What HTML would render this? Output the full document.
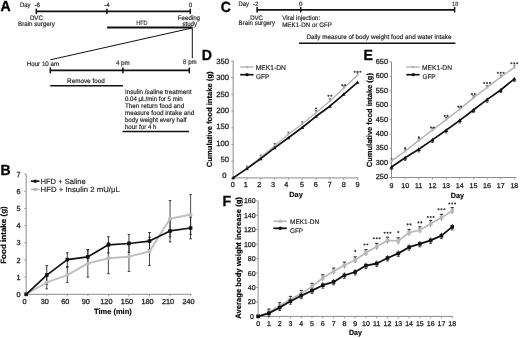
<!DOCTYPE html>
<html><head><meta charset="utf-8"><style>
html,body{margin:0;padding:0;background:#fff;}
body{width:520px;height:338px;overflow:hidden;}
svg{display:block;font-family:"Liberation Sans", sans-serif;will-change:transform;text-rendering:geometricPrecision;}
</style></head><body>
<svg width="520" height="338" viewBox="0 0 520 338">
<rect width="520" height="338" fill="#fff"/>
<text x="0.60" y="11.40" font-size="14.7" text-anchor="start" font-weight="bold" fill="#000" textLength="10.2" lengthAdjust="spacingAndGlyphs" stroke="#000" stroke-width="0.3">A</text>
<text x="19.90" y="6.90" font-size="6.55" text-anchor="start" font-weight="normal" fill="#1a1a1a" textLength="10.5" lengthAdjust="spacingAndGlyphs" stroke="#1a1a1a" stroke-width="0.16">Day</text>
<text x="34.40" y="6.90" font-size="6.2" text-anchor="start" font-weight="normal" fill="#1a1a1a" stroke="#1a1a1a" stroke-width="0.16">-6</text>
<line x1="36.30" y1="11.40" x2="190.30" y2="11.40" stroke="#111" stroke-width="1.8" />
<line x1="36.30" y1="8.70" x2="36.30" y2="14.10" stroke="#111" stroke-width="1.5" />
<line x1="106.90" y1="8.70" x2="106.90" y2="14.10" stroke="#111" stroke-width="1.5" />
<line x1="190.30" y1="8.70" x2="190.30" y2="14.10" stroke="#111" stroke-width="1.5" />
<text x="106.90" y="6.80" font-size="6.2" text-anchor="middle" font-weight="normal" fill="#1a1a1a" stroke="#1a1a1a" stroke-width="0.16">-4</text>
<text x="190.40" y="6.90" font-size="6.2" text-anchor="middle" font-weight="normal" fill="#1a1a1a" stroke="#1a1a1a" stroke-width="0.16">0</text>
<text x="36.40" y="20.20" font-size="6.55" text-anchor="middle" font-weight="normal" fill="#1a1a1a" textLength="12.9" lengthAdjust="spacingAndGlyphs" stroke="#1a1a1a" stroke-width="0.16">DVC</text>
<text x="36.50" y="25.50" font-size="6.55" text-anchor="middle" font-weight="normal" fill="#1a1a1a" textLength="36.9" lengthAdjust="spacingAndGlyphs" stroke="#1a1a1a" stroke-width="0.16">Brain surgery</text>
<text x="188.90" y="19.70" font-size="6.55" text-anchor="middle" font-weight="normal" fill="#1a1a1a" textLength="22.2" lengthAdjust="spacingAndGlyphs" stroke="#1a1a1a" stroke-width="0.16">Feeding</text>
<text x="189.75" y="26.10" font-size="6.55" text-anchor="middle" font-weight="normal" fill="#1a1a1a" textLength="14.7" lengthAdjust="spacingAndGlyphs" stroke="#1a1a1a" stroke-width="0.16">study</text>
<line x1="107.10" y1="27.60" x2="192.60" y2="27.60" stroke="#111" stroke-width="2.0" />
<text x="141.85" y="25.40" font-size="6.3" text-anchor="middle" font-weight="normal" fill="#333" textLength="11.4" lengthAdjust="spacingAndGlyphs" stroke="#333" stroke-width="0.14">HFD</text>
<line x1="192.30" y1="27.60" x2="192.30" y2="58.30" stroke="#111" stroke-width="1.0" />
<line x1="192.00" y1="28.00" x2="50.30" y2="59.80" stroke="#111" stroke-width="1.0" />
<text x="26.70" y="65.70" font-size="6.55" text-anchor="start" font-weight="normal" fill="#1a1a1a" textLength="32.5" lengthAdjust="spacingAndGlyphs" stroke="#1a1a1a" stroke-width="0.16">Hour 10 am</text>
<text x="122.85" y="65.00" font-size="6.55" text-anchor="middle" font-weight="normal" fill="#1a1a1a" textLength="13.9" lengthAdjust="spacingAndGlyphs" stroke="#1a1a1a" stroke-width="0.16">4 pm</text>
<text x="189.90" y="63.90" font-size="6.55" text-anchor="middle" font-weight="normal" fill="#1a1a1a" textLength="13.6" lengthAdjust="spacingAndGlyphs" stroke="#1a1a1a" stroke-width="0.16">8 pm</text>
<line x1="50.30" y1="70.40" x2="189.30" y2="70.40" stroke="#111" stroke-width="1.8" />
<line x1="50.30" y1="67.50" x2="50.30" y2="73.30" stroke="#111" stroke-width="1.5" />
<line x1="122.90" y1="67.50" x2="122.90" y2="73.30" stroke="#111" stroke-width="1.5" />
<line x1="189.30" y1="67.50" x2="189.30" y2="73.30" stroke="#111" stroke-width="1.5" />
<text x="85.90" y="83.00" font-size="6.55" text-anchor="middle" font-weight="normal" fill="#1a1a1a" textLength="37.6" lengthAdjust="spacingAndGlyphs" stroke="#1a1a1a" stroke-width="0.16">Remove food</text>
<line x1="50.20" y1="85.80" x2="122.90" y2="85.80" stroke="#111" stroke-width="1.6" />
<text x="124.90" y="93.80" font-size="6.55" text-anchor="start" font-weight="normal" fill="#1a1a1a" textLength="66.6" lengthAdjust="spacingAndGlyphs" stroke="#1a1a1a" stroke-width="0.16">Insulin /saline treatment</text>
<text x="124.90" y="100.80" font-size="6.55" text-anchor="start" font-weight="normal" fill="#1a1a1a" textLength="57.7" lengthAdjust="spacingAndGlyphs" stroke="#1a1a1a" stroke-width="0.16">0.04 μL/min for 5 min</text>
<text x="124.90" y="107.80" font-size="6.55" text-anchor="start" font-weight="normal" fill="#1a1a1a" textLength="59.3" lengthAdjust="spacingAndGlyphs" stroke="#1a1a1a" stroke-width="0.16">Then return food and</text>
<text x="124.90" y="114.80" font-size="6.55" text-anchor="start" font-weight="normal" fill="#1a1a1a" textLength="69.3" lengthAdjust="spacingAndGlyphs" stroke="#1a1a1a" stroke-width="0.16">measure food intake and</text>
<text x="124.90" y="121.80" font-size="6.55" text-anchor="start" font-weight="normal" fill="#1a1a1a" textLength="61.6" lengthAdjust="spacingAndGlyphs" stroke="#1a1a1a" stroke-width="0.16">body weight every half</text>
<text x="124.90" y="128.80" font-size="6.55" text-anchor="start" font-weight="normal" fill="#1a1a1a" textLength="31.6" lengthAdjust="spacingAndGlyphs" stroke="#1a1a1a" stroke-width="0.16">hour for 4 h</text>
<line x1="122.60" y1="131.50" x2="189.00" y2="131.50" stroke="#111" stroke-width="1.6" />
<text x="0.60" y="174.80" font-size="14.7" text-anchor="start" font-weight="bold" fill="#000" textLength="10.1" lengthAdjust="spacingAndGlyphs" stroke="#000" stroke-width="0.3">B</text>
<line x1="26.20" y1="174.11" x2="26.20" y2="294.30" stroke="#8c8c8c" stroke-width="1.0" />
<line x1="26.20" y1="294.30" x2="191.50" y2="294.30" stroke="#8c8c8c" stroke-width="1.0" />
<line x1="24.20" y1="294.30" x2="26.20" y2="294.30" stroke="#8c8c8c" stroke-width="0.8" />
<text x="20.60" y="296.90" font-size="7.3" text-anchor="end" font-weight="normal" fill="#1a1a1a" stroke="#1a1a1a" stroke-width="0.26">0</text>
<line x1="24.20" y1="277.13" x2="26.20" y2="277.13" stroke="#8c8c8c" stroke-width="0.8" />
<text x="20.60" y="279.73" font-size="7.3" text-anchor="end" font-weight="normal" fill="#1a1a1a" stroke="#1a1a1a" stroke-width="0.26">1</text>
<line x1="24.20" y1="259.96" x2="26.20" y2="259.96" stroke="#8c8c8c" stroke-width="0.8" />
<text x="20.60" y="262.56" font-size="7.3" text-anchor="end" font-weight="normal" fill="#1a1a1a" stroke="#1a1a1a" stroke-width="0.26">2</text>
<line x1="24.20" y1="242.79" x2="26.20" y2="242.79" stroke="#8c8c8c" stroke-width="0.8" />
<text x="20.60" y="245.39" font-size="7.3" text-anchor="end" font-weight="normal" fill="#1a1a1a" stroke="#1a1a1a" stroke-width="0.26">3</text>
<line x1="24.20" y1="225.62" x2="26.20" y2="225.62" stroke="#8c8c8c" stroke-width="0.8" />
<text x="20.60" y="228.22" font-size="7.3" text-anchor="end" font-weight="normal" fill="#1a1a1a" stroke="#1a1a1a" stroke-width="0.26">4</text>
<line x1="24.20" y1="208.45" x2="26.20" y2="208.45" stroke="#8c8c8c" stroke-width="0.8" />
<text x="20.60" y="211.05" font-size="7.3" text-anchor="end" font-weight="normal" fill="#1a1a1a" stroke="#1a1a1a" stroke-width="0.26">5</text>
<line x1="24.20" y1="191.28" x2="26.20" y2="191.28" stroke="#8c8c8c" stroke-width="0.8" />
<text x="20.60" y="193.88" font-size="7.3" text-anchor="end" font-weight="normal" fill="#1a1a1a" stroke="#1a1a1a" stroke-width="0.26">6</text>
<line x1="24.20" y1="174.11" x2="26.20" y2="174.11" stroke="#8c8c8c" stroke-width="0.8" />
<text x="20.60" y="176.71" font-size="7.3" text-anchor="end" font-weight="normal" fill="#1a1a1a" stroke="#1a1a1a" stroke-width="0.26">7</text>
<line x1="26.20" y1="294.30" x2="26.20" y2="296.30" stroke="#8c8c8c" stroke-width="0.8" />
<text x="24.60" y="303.50" font-size="7.3" text-anchor="middle" font-weight="normal" fill="#1a1a1a" stroke="#1a1a1a" stroke-width="0.26">0</text>
<line x1="46.75" y1="294.30" x2="46.75" y2="296.30" stroke="#8c8c8c" stroke-width="0.8" />
<text x="44.75" y="303.50" font-size="7.3" text-anchor="middle" font-weight="normal" fill="#1a1a1a" stroke="#1a1a1a" stroke-width="0.26">30</text>
<line x1="67.30" y1="294.30" x2="67.30" y2="296.30" stroke="#8c8c8c" stroke-width="0.8" />
<text x="65.30" y="303.50" font-size="7.3" text-anchor="middle" font-weight="normal" fill="#1a1a1a" stroke="#1a1a1a" stroke-width="0.26">60</text>
<line x1="87.85" y1="294.30" x2="87.85" y2="296.30" stroke="#8c8c8c" stroke-width="0.8" />
<text x="85.85" y="303.50" font-size="7.3" text-anchor="middle" font-weight="normal" fill="#1a1a1a" stroke="#1a1a1a" stroke-width="0.26">90</text>
<line x1="108.40" y1="294.30" x2="108.40" y2="296.30" stroke="#8c8c8c" stroke-width="0.8" />
<text x="106.40" y="303.50" font-size="7.3" text-anchor="middle" font-weight="normal" fill="#1a1a1a" stroke="#1a1a1a" stroke-width="0.26">120</text>
<line x1="128.95" y1="294.30" x2="128.95" y2="296.30" stroke="#8c8c8c" stroke-width="0.8" />
<text x="126.95" y="303.50" font-size="7.3" text-anchor="middle" font-weight="normal" fill="#1a1a1a" stroke="#1a1a1a" stroke-width="0.26">150</text>
<line x1="149.50" y1="294.30" x2="149.50" y2="296.30" stroke="#8c8c8c" stroke-width="0.8" />
<text x="147.50" y="303.50" font-size="7.3" text-anchor="middle" font-weight="normal" fill="#1a1a1a" stroke="#1a1a1a" stroke-width="0.26">180</text>
<line x1="170.05" y1="294.30" x2="170.05" y2="296.30" stroke="#8c8c8c" stroke-width="0.8" />
<text x="168.05" y="303.50" font-size="7.3" text-anchor="middle" font-weight="normal" fill="#1a1a1a" stroke="#1a1a1a" stroke-width="0.26">210</text>
<line x1="190.60" y1="294.30" x2="190.60" y2="296.30" stroke="#8c8c8c" stroke-width="0.8" />
<text x="188.60" y="303.50" font-size="7.3" text-anchor="middle" font-weight="normal" fill="#1a1a1a" stroke="#1a1a1a" stroke-width="0.26">240</text>
<text x="112.90" y="314.30" font-size="7.5" text-anchor="middle" font-weight="bold" fill="#000" textLength="37.8" lengthAdjust="spacingAndGlyphs" stroke="#000" stroke-width="0.14">Time (min)</text>
<text x="0.00" y="0.00" font-size="7.7" text-anchor="middle" font-weight="bold" fill="#000" transform="translate(6.2,235.0) rotate(-90)" textLength="57.6" lengthAdjust="spacingAndGlyphs" stroke="#000" stroke-width="0.14">Food intake (g)</text>
<line x1="46.75" y1="288.81" x2="46.75" y2="276.10" stroke="#333" stroke-width="0.9" />
<line x1="45.45" y1="288.81" x2="48.05" y2="288.81" stroke="#333" stroke-width="0.9" />
<line x1="45.45" y1="276.10" x2="48.05" y2="276.10" stroke="#333" stroke-width="0.9" />
<line x1="67.30" y1="282.62" x2="67.30" y2="267.51" stroke="#333" stroke-width="0.9" />
<line x1="66.00" y1="282.62" x2="68.60" y2="282.62" stroke="#333" stroke-width="0.9" />
<line x1="66.00" y1="267.51" x2="68.60" y2="267.51" stroke="#333" stroke-width="0.9" />
<line x1="87.85" y1="277.13" x2="87.85" y2="249.66" stroke="#333" stroke-width="0.9" />
<line x1="86.55" y1="277.13" x2="89.15" y2="277.13" stroke="#333" stroke-width="0.9" />
<line x1="86.55" y1="249.66" x2="89.15" y2="249.66" stroke="#333" stroke-width="0.9" />
<line x1="108.40" y1="273.70" x2="108.40" y2="242.79" stroke="#333" stroke-width="0.9" />
<line x1="107.10" y1="273.70" x2="109.70" y2="273.70" stroke="#333" stroke-width="0.9" />
<line x1="107.10" y1="242.79" x2="109.70" y2="242.79" stroke="#333" stroke-width="0.9" />
<line x1="128.95" y1="271.46" x2="128.95" y2="241.93" stroke="#333" stroke-width="0.9" />
<line x1="127.65" y1="271.46" x2="130.25" y2="271.46" stroke="#333" stroke-width="0.9" />
<line x1="127.65" y1="241.93" x2="130.25" y2="241.93" stroke="#333" stroke-width="0.9" />
<line x1="149.50" y1="265.45" x2="149.50" y2="237.30" stroke="#333" stroke-width="0.9" />
<line x1="148.20" y1="265.45" x2="150.80" y2="265.45" stroke="#333" stroke-width="0.9" />
<line x1="148.20" y1="237.30" x2="150.80" y2="237.30" stroke="#333" stroke-width="0.9" />
<line x1="170.05" y1="236.95" x2="170.05" y2="200.55" stroke="#333" stroke-width="0.9" />
<line x1="168.75" y1="236.95" x2="171.35" y2="236.95" stroke="#333" stroke-width="0.9" />
<line x1="168.75" y1="200.55" x2="171.35" y2="200.55" stroke="#333" stroke-width="0.9" />
<line x1="190.60" y1="234.38" x2="190.60" y2="194.54" stroke="#333" stroke-width="0.9" />
<line x1="189.30" y1="234.38" x2="191.90" y2="234.38" stroke="#333" stroke-width="0.9" />
<line x1="189.30" y1="194.54" x2="191.90" y2="194.54" stroke="#333" stroke-width="0.9" />
<line x1="46.75" y1="284.51" x2="46.75" y2="265.63" stroke="#222" stroke-width="0.9" />
<line x1="45.45" y1="284.51" x2="48.05" y2="284.51" stroke="#222" stroke-width="0.9" />
<line x1="45.45" y1="265.63" x2="48.05" y2="265.63" stroke="#222" stroke-width="0.9" />
<line x1="67.30" y1="266.48" x2="67.30" y2="252.75" stroke="#222" stroke-width="0.9" />
<line x1="66.00" y1="266.48" x2="68.60" y2="266.48" stroke="#222" stroke-width="0.9" />
<line x1="66.00" y1="252.75" x2="68.60" y2="252.75" stroke="#222" stroke-width="0.9" />
<line x1="87.85" y1="264.08" x2="87.85" y2="249.66" stroke="#222" stroke-width="0.9" />
<line x1="86.55" y1="264.08" x2="89.15" y2="264.08" stroke="#222" stroke-width="0.9" />
<line x1="86.55" y1="249.66" x2="89.15" y2="249.66" stroke="#222" stroke-width="0.9" />
<line x1="108.40" y1="252.92" x2="108.40" y2="236.78" stroke="#222" stroke-width="0.9" />
<line x1="107.10" y1="252.92" x2="109.70" y2="252.92" stroke="#222" stroke-width="0.9" />
<line x1="107.10" y1="236.78" x2="109.70" y2="236.78" stroke="#222" stroke-width="0.9" />
<line x1="128.95" y1="252.41" x2="128.95" y2="234.55" stroke="#222" stroke-width="0.9" />
<line x1="127.65" y1="252.41" x2="130.25" y2="252.41" stroke="#222" stroke-width="0.9" />
<line x1="127.65" y1="234.55" x2="130.25" y2="234.55" stroke="#222" stroke-width="0.9" />
<line x1="149.50" y1="249.66" x2="149.50" y2="232.49" stroke="#222" stroke-width="0.9" />
<line x1="148.20" y1="249.66" x2="150.80" y2="249.66" stroke="#222" stroke-width="0.9" />
<line x1="148.20" y1="232.49" x2="150.80" y2="232.49" stroke="#222" stroke-width="0.9" />
<line x1="170.05" y1="241.93" x2="170.05" y2="219.95" stroke="#222" stroke-width="0.9" />
<line x1="168.75" y1="241.93" x2="171.35" y2="241.93" stroke="#222" stroke-width="0.9" />
<line x1="168.75" y1="219.95" x2="171.35" y2="219.95" stroke="#222" stroke-width="0.9" />
<line x1="190.60" y1="238.84" x2="190.60" y2="217.21" stroke="#222" stroke-width="0.9" />
<line x1="189.30" y1="238.84" x2="191.90" y2="238.84" stroke="#222" stroke-width="0.9" />
<line x1="189.30" y1="217.21" x2="191.90" y2="217.21" stroke="#222" stroke-width="0.9" />
<polyline points="26.20,294.30 46.75,282.45 67.30,275.07 87.85,263.39 108.40,258.24 128.95,256.70 149.50,251.38 170.05,218.75 190.60,214.46" fill="none" stroke="#c0c0c0" stroke-width="1.9" stroke-linejoin="round"/>
<circle cx="26.20" cy="294.30" r="2.00" fill="#bcbcbc"/>
<circle cx="46.75" cy="282.45" r="2.00" fill="#bcbcbc"/>
<circle cx="67.30" cy="275.07" r="2.00" fill="#bcbcbc"/>
<circle cx="87.85" cy="263.39" r="2.00" fill="#bcbcbc"/>
<circle cx="108.40" cy="258.24" r="2.00" fill="#bcbcbc"/>
<circle cx="128.95" cy="256.70" r="2.00" fill="#bcbcbc"/>
<circle cx="149.50" cy="251.38" r="2.00" fill="#bcbcbc"/>
<circle cx="170.05" cy="218.75" r="2.00" fill="#bcbcbc"/>
<circle cx="190.60" cy="214.46" r="2.00" fill="#bcbcbc"/>
<polyline points="26.20,294.30 46.75,275.07 67.30,259.62 87.85,256.87 108.40,244.85 128.95,243.48 149.50,241.07 170.05,230.94 190.60,228.02" fill="none" stroke="#111" stroke-width="1.7" stroke-linejoin="round"/>
<rect x="24.40" y="292.50" width="3.60" height="3.60" fill="#111"/>
<rect x="44.95" y="273.27" width="3.60" height="3.60" fill="#111"/>
<rect x="65.50" y="257.82" width="3.60" height="3.60" fill="#111"/>
<rect x="86.05" y="255.07" width="3.60" height="3.60" fill="#111"/>
<rect x="106.60" y="243.05" width="3.60" height="3.60" fill="#111"/>
<rect x="127.15" y="241.68" width="3.60" height="3.60" fill="#111"/>
<rect x="147.70" y="239.27" width="3.60" height="3.60" fill="#111"/>
<rect x="168.25" y="229.14" width="3.60" height="3.60" fill="#111"/>
<rect x="188.80" y="226.22" width="3.60" height="3.60" fill="#111"/>
<line x1="30.90" y1="181.20" x2="39.50" y2="181.20" stroke="#111" stroke-width="1.6" />
<rect x="33.60" y="179.70" width="3.00" height="3.00" fill="#111"/>
<line x1="30.90" y1="189.40" x2="39.50" y2="189.40" stroke="#b8b8b8" stroke-width="1.6" />
<rect x="33.60" y="187.90" width="3.00" height="3.00" fill="#b8b8b8"/>
<text x="40.50" y="183.90" font-size="7.6" text-anchor="start" font-weight="normal" fill="#1a1a1a" textLength="45.2" lengthAdjust="spacingAndGlyphs" stroke="#1a1a1a" stroke-width="0.15">HFD + Saline</text>
<text x="40.50" y="192.20" font-size="7.6" text-anchor="start" font-weight="normal" fill="#1a1a1a" textLength="79.3" lengthAdjust="spacingAndGlyphs" stroke="#1a1a1a" stroke-width="0.15">HFD + Insulin 2 mU/μL</text>
<text x="220.70" y="11.50" font-size="14.7" text-anchor="start" font-weight="bold" fill="#000" textLength="10.2" lengthAdjust="spacingAndGlyphs" stroke="#000" stroke-width="0.3">C</text>
<text x="238.60" y="5.80" font-size="6.55" text-anchor="start" font-weight="normal" fill="#1a1a1a" textLength="10.4" lengthAdjust="spacingAndGlyphs" stroke="#1a1a1a" stroke-width="0.16">Day</text>
<text x="253.00" y="5.80" font-size="6.2" text-anchor="start" font-weight="normal" fill="#1a1a1a" stroke="#1a1a1a" stroke-width="0.16">-2</text>
<line x1="257.10" y1="9.80" x2="454.60" y2="9.80" stroke="#111" stroke-width="1.8" />
<line x1="257.10" y1="7.00" x2="257.10" y2="12.50" stroke="#111" stroke-width="1.5" />
<line x1="300.70" y1="7.00" x2="300.70" y2="12.50" stroke="#111" stroke-width="1.5" />
<line x1="454.60" y1="7.00" x2="454.60" y2="12.50" stroke="#111" stroke-width="1.5" />
<text x="300.70" y="5.50" font-size="6.2" text-anchor="middle" font-weight="normal" fill="#1a1a1a" stroke="#1a1a1a" stroke-width="0.16">0</text>
<text x="455.00" y="5.50" font-size="6.0" text-anchor="middle" font-weight="normal" fill="#333" stroke="#333" stroke-width="0.08">18</text>
<text x="256.55" y="19.80" font-size="6.55" text-anchor="middle" font-weight="normal" fill="#1a1a1a" textLength="12.7" lengthAdjust="spacingAndGlyphs" stroke="#1a1a1a" stroke-width="0.16">DVC</text>
<text x="256.85" y="25.40" font-size="6.55" text-anchor="middle" font-weight="normal" fill="#1a1a1a" textLength="36.5" lengthAdjust="spacingAndGlyphs" stroke="#1a1a1a" stroke-width="0.16">Brain surgery</text>
<text x="282.20" y="20.00" font-size="6.55" text-anchor="start" font-weight="normal" fill="#1a1a1a" textLength="38.0" lengthAdjust="spacingAndGlyphs" stroke="#1a1a1a" stroke-width="0.16">Viral injection:</text>
<text x="282.20" y="27.40" font-size="6.55" text-anchor="start" font-weight="normal" fill="#1a1a1a" textLength="49.8" lengthAdjust="spacingAndGlyphs" stroke="#1a1a1a" stroke-width="0.16">MEK1-DN or GFP</text>
<text x="306.40" y="39.20" font-size="6.55" text-anchor="start" font-weight="normal" fill="#1a1a1a" textLength="145.1" lengthAdjust="spacingAndGlyphs" stroke="#1a1a1a" stroke-width="0.16">Daily measure of body weight food and water intake</text>
<line x1="299.00" y1="43.20" x2="455.40" y2="43.20" stroke="#111" stroke-width="1.6" />
<text x="201.80" y="60.00" font-size="14.7" text-anchor="start" font-weight="bold" fill="#000" textLength="10.2" lengthAdjust="spacingAndGlyphs" stroke="#000" stroke-width="0.3">D</text>
<line x1="233.15" y1="61.00" x2="233.15" y2="177.90" stroke="#8c8c8c" stroke-width="1.0" />
<line x1="233.15" y1="177.90" x2="358.50" y2="177.90" stroke="#8c8c8c" stroke-width="1.0" />
<line x1="231.15" y1="177.90" x2="233.15" y2="177.90" stroke="#8c8c8c" stroke-width="0.8" />
<text x="226.50" y="178.30" font-size="7.7" text-anchor="end" font-weight="normal" fill="#1a1a1a" stroke="#1a1a1a" stroke-width="0.26">0</text>
<line x1="231.15" y1="161.20" x2="233.15" y2="161.20" stroke="#8c8c8c" stroke-width="0.8" />
<text x="229.10" y="161.96" font-size="7.7" text-anchor="end" font-weight="normal" fill="#1a1a1a" stroke="#1a1a1a" stroke-width="0.26">50</text>
<line x1="231.15" y1="144.50" x2="233.15" y2="144.50" stroke="#8c8c8c" stroke-width="0.8" />
<text x="229.10" y="145.62" font-size="7.7" text-anchor="end" font-weight="normal" fill="#1a1a1a" stroke="#1a1a1a" stroke-width="0.26">100</text>
<line x1="231.15" y1="127.80" x2="233.15" y2="127.80" stroke="#8c8c8c" stroke-width="0.8" />
<text x="229.10" y="129.28" font-size="7.7" text-anchor="end" font-weight="normal" fill="#1a1a1a" stroke="#1a1a1a" stroke-width="0.26">150</text>
<line x1="231.15" y1="111.10" x2="233.15" y2="111.10" stroke="#8c8c8c" stroke-width="0.8" />
<text x="229.10" y="112.94" font-size="7.7" text-anchor="end" font-weight="normal" fill="#1a1a1a" stroke="#1a1a1a" stroke-width="0.26">200</text>
<line x1="231.15" y1="94.40" x2="233.15" y2="94.40" stroke="#8c8c8c" stroke-width="0.8" />
<text x="229.10" y="96.60" font-size="7.7" text-anchor="end" font-weight="normal" fill="#1a1a1a" stroke="#1a1a1a" stroke-width="0.26">250</text>
<line x1="231.15" y1="77.70" x2="233.15" y2="77.70" stroke="#8c8c8c" stroke-width="0.8" />
<text x="229.10" y="80.26" font-size="7.7" text-anchor="end" font-weight="normal" fill="#1a1a1a" stroke="#1a1a1a" stroke-width="0.26">300</text>
<line x1="231.15" y1="61.00" x2="233.15" y2="61.00" stroke="#8c8c8c" stroke-width="0.8" />
<text x="229.10" y="63.70" font-size="7.7" text-anchor="end" font-weight="normal" fill="#1a1a1a" stroke="#1a1a1a" stroke-width="0.26">350</text>
<line x1="233.15" y1="177.90" x2="233.15" y2="179.90" stroke="#8c8c8c" stroke-width="0.8" />
<text x="232.75" y="187.30" font-size="7.3" text-anchor="middle" font-weight="normal" fill="#1a1a1a" stroke="#1a1a1a" stroke-width="0.26">0</text>
<line x1="246.97" y1="177.90" x2="246.97" y2="179.90" stroke="#8c8c8c" stroke-width="0.8" />
<text x="245.67" y="187.30" font-size="7.3" text-anchor="middle" font-weight="normal" fill="#1a1a1a" stroke="#1a1a1a" stroke-width="0.26">1</text>
<line x1="260.79" y1="177.90" x2="260.79" y2="179.90" stroke="#8c8c8c" stroke-width="0.8" />
<text x="259.19" y="187.30" font-size="7.3" text-anchor="middle" font-weight="normal" fill="#1a1a1a" stroke="#1a1a1a" stroke-width="0.26">2</text>
<line x1="274.61" y1="177.90" x2="274.61" y2="179.90" stroke="#8c8c8c" stroke-width="0.8" />
<text x="272.91" y="187.30" font-size="7.3" text-anchor="middle" font-weight="normal" fill="#1a1a1a" stroke="#1a1a1a" stroke-width="0.26">3</text>
<line x1="288.43" y1="177.90" x2="288.43" y2="179.90" stroke="#8c8c8c" stroke-width="0.8" />
<text x="286.23" y="187.30" font-size="7.3" text-anchor="middle" font-weight="normal" fill="#1a1a1a" stroke="#1a1a1a" stroke-width="0.26">4</text>
<line x1="302.25" y1="177.90" x2="302.25" y2="179.90" stroke="#8c8c8c" stroke-width="0.8" />
<text x="301.95" y="187.30" font-size="7.3" text-anchor="middle" font-weight="normal" fill="#1a1a1a" stroke="#1a1a1a" stroke-width="0.26">5</text>
<line x1="316.07" y1="177.90" x2="316.07" y2="179.90" stroke="#8c8c8c" stroke-width="0.8" />
<text x="315.77" y="187.30" font-size="7.3" text-anchor="middle" font-weight="normal" fill="#1a1a1a" stroke="#1a1a1a" stroke-width="0.26">6</text>
<line x1="329.89" y1="177.90" x2="329.89" y2="179.90" stroke="#8c8c8c" stroke-width="0.8" />
<text x="329.89" y="187.30" font-size="7.3" text-anchor="middle" font-weight="normal" fill="#1a1a1a" stroke="#1a1a1a" stroke-width="0.26">7</text>
<line x1="343.71" y1="177.90" x2="343.71" y2="179.90" stroke="#8c8c8c" stroke-width="0.8" />
<text x="343.71" y="187.30" font-size="7.3" text-anchor="middle" font-weight="normal" fill="#1a1a1a" stroke="#1a1a1a" stroke-width="0.26">8</text>
<line x1="357.53" y1="177.90" x2="357.53" y2="179.90" stroke="#8c8c8c" stroke-width="0.8" />
<text x="357.53" y="187.30" font-size="7.3" text-anchor="middle" font-weight="normal" fill="#1a1a1a" stroke="#1a1a1a" stroke-width="0.26">9</text>
<text x="296.00" y="196.50" font-size="7.4" text-anchor="middle" font-weight="bold" fill="#000" textLength="13.5" lengthAdjust="spacingAndGlyphs" stroke="#000" stroke-width="0.14">Day</text>
<text x="0.00" y="0.00" font-size="7.6" text-anchor="middle" font-weight="bold" fill="#000" transform="translate(212.3,119.3) rotate(-90)" textLength="95.7" lengthAdjust="spacingAndGlyphs" stroke="#000" stroke-width="0.14">Cumulative food intake (g)</text>
<polyline points="233.15,177.90 246.97,168.20 260.79,157.30 274.61,145.70 288.43,134.30 302.25,123.90 316.07,112.70 329.89,101.00 343.71,88.20 357.53,75.00" fill="none" stroke="#b0b0b0" stroke-width="1.2" stroke-linejoin="round"/>
<rect x="232.15" y="176.90" width="2.00" height="2.00" fill="#b8b8b8"/>
<line x1="245.77" y1="166.00" x2="248.17" y2="166.00" stroke="#555" stroke-width="0.8" />
<line x1="246.97" y1="166.00" x2="246.97" y2="168.20" stroke="#555" stroke-width="0.8" />
<rect x="245.97" y="167.20" width="2.00" height="2.00" fill="#b8b8b8"/>
<line x1="259.59" y1="155.10" x2="261.99" y2="155.10" stroke="#555" stroke-width="0.8" />
<line x1="260.79" y1="155.10" x2="260.79" y2="157.30" stroke="#555" stroke-width="0.8" />
<rect x="259.79" y="156.30" width="2.00" height="2.00" fill="#b8b8b8"/>
<line x1="273.41" y1="143.50" x2="275.81" y2="143.50" stroke="#555" stroke-width="0.8" />
<line x1="274.61" y1="143.50" x2="274.61" y2="145.70" stroke="#555" stroke-width="0.8" />
<rect x="273.61" y="144.70" width="2.00" height="2.00" fill="#b8b8b8"/>
<line x1="287.23" y1="132.10" x2="289.63" y2="132.10" stroke="#555" stroke-width="0.8" />
<line x1="288.43" y1="132.10" x2="288.43" y2="134.30" stroke="#555" stroke-width="0.8" />
<rect x="287.43" y="133.30" width="2.00" height="2.00" fill="#b8b8b8"/>
<line x1="301.05" y1="121.70" x2="303.45" y2="121.70" stroke="#555" stroke-width="0.8" />
<line x1="302.25" y1="121.70" x2="302.25" y2="123.90" stroke="#555" stroke-width="0.8" />
<rect x="301.25" y="122.90" width="2.00" height="2.00" fill="#b8b8b8"/>
<line x1="314.87" y1="110.50" x2="317.27" y2="110.50" stroke="#555" stroke-width="0.8" />
<line x1="316.07" y1="110.50" x2="316.07" y2="112.70" stroke="#555" stroke-width="0.8" />
<rect x="315.07" y="111.70" width="2.00" height="2.00" fill="#b8b8b8"/>
<line x1="328.69" y1="98.80" x2="331.09" y2="98.80" stroke="#555" stroke-width="0.8" />
<line x1="329.89" y1="98.80" x2="329.89" y2="101.00" stroke="#555" stroke-width="0.8" />
<rect x="328.89" y="100.00" width="2.00" height="2.00" fill="#b8b8b8"/>
<line x1="342.51" y1="86.00" x2="344.91" y2="86.00" stroke="#555" stroke-width="0.8" />
<line x1="343.71" y1="86.00" x2="343.71" y2="88.20" stroke="#555" stroke-width="0.8" />
<rect x="342.71" y="87.20" width="2.00" height="2.00" fill="#b8b8b8"/>
<line x1="356.33" y1="72.80" x2="358.73" y2="72.80" stroke="#555" stroke-width="0.8" />
<line x1="357.53" y1="72.80" x2="357.53" y2="75.00" stroke="#555" stroke-width="0.8" />
<rect x="356.53" y="74.00" width="2.00" height="2.00" fill="#b8b8b8"/>
<polyline points="233.15,177.90 246.97,168.60 260.79,158.70 274.61,147.90 288.43,137.80 302.25,127.50 316.07,116.30 329.89,106.20 343.71,94.30 357.53,82.40" fill="none" stroke="#111" stroke-width="1.7" stroke-linejoin="round"/>
<polygon points="231.35,179.34 234.95,179.34 233.15,176.10" fill="#111"/>
<polygon points="245.17,170.04 248.77,170.04 246.97,166.80" fill="#111"/>
<polygon points="258.99,160.14 262.59,160.14 260.79,156.90" fill="#111"/>
<polygon points="272.81,149.34 276.41,149.34 274.61,146.10" fill="#111"/>
<polygon points="286.63,139.24 290.23,139.24 288.43,136.00" fill="#111"/>
<polygon points="300.45,128.94 304.05,128.94 302.25,125.70" fill="#111"/>
<polygon points="314.27,117.74 317.87,117.74 316.07,114.50" fill="#111"/>
<polygon points="328.09,107.64 331.69,107.64 329.89,104.40" fill="#111"/>
<polygon points="341.91,95.74 345.51,95.74 343.71,92.50" fill="#111"/>
<polygon points="355.73,83.84 359.33,83.84 357.53,80.60" fill="#111"/>
<circle cx="316.07" cy="108.50" r="1.05" fill="#3a3a3a"/>
<circle cx="328.44" cy="95.80" r="1.05" fill="#3a3a3a"/>
<circle cx="331.34" cy="95.80" r="1.05" fill="#3a3a3a"/>
<circle cx="342.26" cy="85.00" r="1.05" fill="#3a3a3a"/>
<circle cx="345.16" cy="85.00" r="1.05" fill="#3a3a3a"/>
<circle cx="354.63" cy="71.70" r="1.05" fill="#3a3a3a"/>
<circle cx="357.53" cy="71.70" r="1.05" fill="#3a3a3a"/>
<circle cx="360.43" cy="71.70" r="1.05" fill="#3a3a3a"/>
<line x1="240.20" y1="67.00" x2="253.50" y2="67.00" stroke="#b0b0b0" stroke-width="1.4" />
<rect x="245.80" y="65.80" width="2.40" height="2.40" fill="#b8b8b8"/>
<line x1="240.20" y1="74.70" x2="253.50" y2="74.70" stroke="#111" stroke-width="1.7" />
<circle cx="247.00" cy="74.70" r="1.60" fill="#111"/>
<text x="255.80" y="69.90" font-size="6.8" text-anchor="start" font-weight="normal" fill="#1a1a1a" textLength="30.0" lengthAdjust="spacingAndGlyphs" stroke="#1a1a1a" stroke-width="0.15">MEK1-DN</text>
<text x="256.10" y="78.90" font-size="6.8" text-anchor="start" font-weight="normal" fill="#1a1a1a" textLength="13.2" lengthAdjust="spacingAndGlyphs" stroke="#1a1a1a" stroke-width="0.15">GFP</text>
<text x="363.60" y="59.90" font-size="14.7" text-anchor="start" font-weight="bold" fill="#000" textLength="9.4" lengthAdjust="spacingAndGlyphs" stroke="#000" stroke-width="0.3">E</text>
<line x1="391.50" y1="61.82" x2="391.50" y2="177.50" stroke="#8c8c8c" stroke-width="1.0" />
<line x1="391.50" y1="177.50" x2="516.50" y2="177.50" stroke="#8c8c8c" stroke-width="1.0" />
<line x1="389.50" y1="177.50" x2="391.50" y2="177.50" stroke="#8c8c8c" stroke-width="0.8" />
<text x="388.00" y="179.40" font-size="7.3" text-anchor="end" font-weight="normal" fill="#1a1a1a" stroke="#1a1a1a" stroke-width="0.26">250</text>
<line x1="389.50" y1="163.04" x2="391.50" y2="163.04" stroke="#8c8c8c" stroke-width="0.8" />
<text x="388.00" y="164.94" font-size="7.3" text-anchor="end" font-weight="normal" fill="#1a1a1a" stroke="#1a1a1a" stroke-width="0.26">300</text>
<line x1="389.50" y1="148.58" x2="391.50" y2="148.58" stroke="#8c8c8c" stroke-width="0.8" />
<text x="388.00" y="150.48" font-size="7.3" text-anchor="end" font-weight="normal" fill="#1a1a1a" stroke="#1a1a1a" stroke-width="0.26">350</text>
<line x1="389.50" y1="134.12" x2="391.50" y2="134.12" stroke="#8c8c8c" stroke-width="0.8" />
<text x="388.00" y="136.02" font-size="7.3" text-anchor="end" font-weight="normal" fill="#1a1a1a" stroke="#1a1a1a" stroke-width="0.26">400</text>
<line x1="389.50" y1="119.66" x2="391.50" y2="119.66" stroke="#8c8c8c" stroke-width="0.8" />
<text x="388.00" y="121.56" font-size="7.3" text-anchor="end" font-weight="normal" fill="#1a1a1a" stroke="#1a1a1a" stroke-width="0.26">450</text>
<line x1="389.50" y1="105.20" x2="391.50" y2="105.20" stroke="#8c8c8c" stroke-width="0.8" />
<text x="388.00" y="107.10" font-size="7.3" text-anchor="end" font-weight="normal" fill="#1a1a1a" stroke="#1a1a1a" stroke-width="0.26">500</text>
<line x1="389.50" y1="90.74" x2="391.50" y2="90.74" stroke="#8c8c8c" stroke-width="0.8" />
<text x="388.00" y="92.64" font-size="7.3" text-anchor="end" font-weight="normal" fill="#1a1a1a" stroke="#1a1a1a" stroke-width="0.26">550</text>
<line x1="389.50" y1="76.28" x2="391.50" y2="76.28" stroke="#8c8c8c" stroke-width="0.8" />
<text x="388.00" y="78.18" font-size="7.3" text-anchor="end" font-weight="normal" fill="#1a1a1a" stroke="#1a1a1a" stroke-width="0.26">600</text>
<line x1="389.50" y1="61.82" x2="391.50" y2="61.82" stroke="#8c8c8c" stroke-width="0.8" />
<text x="388.00" y="63.72" font-size="7.3" text-anchor="end" font-weight="normal" fill="#1a1a1a" stroke="#1a1a1a" stroke-width="0.26">650</text>
<line x1="391.50" y1="177.50" x2="391.50" y2="179.50" stroke="#8c8c8c" stroke-width="0.8" />
<text x="391.50" y="187.50" font-size="7.1" text-anchor="middle" font-weight="normal" fill="#1a1a1a" stroke="#1a1a1a" stroke-width="0.26">9</text>
<line x1="405.15" y1="177.50" x2="405.15" y2="179.50" stroke="#8c8c8c" stroke-width="0.8" />
<text x="405.15" y="187.50" font-size="7.1" text-anchor="middle" font-weight="normal" fill="#1a1a1a" stroke="#1a1a1a" stroke-width="0.26">10</text>
<line x1="418.80" y1="177.50" x2="418.80" y2="179.50" stroke="#8c8c8c" stroke-width="0.8" />
<text x="418.80" y="187.50" font-size="7.1" text-anchor="middle" font-weight="normal" fill="#1a1a1a" stroke="#1a1a1a" stroke-width="0.26">11</text>
<line x1="432.45" y1="177.50" x2="432.45" y2="179.50" stroke="#8c8c8c" stroke-width="0.8" />
<text x="432.45" y="187.50" font-size="7.1" text-anchor="middle" font-weight="normal" fill="#1a1a1a" stroke="#1a1a1a" stroke-width="0.26">12</text>
<line x1="446.10" y1="177.50" x2="446.10" y2="179.50" stroke="#8c8c8c" stroke-width="0.8" />
<text x="446.10" y="187.50" font-size="7.1" text-anchor="middle" font-weight="normal" fill="#1a1a1a" stroke="#1a1a1a" stroke-width="0.26">13</text>
<line x1="459.75" y1="177.50" x2="459.75" y2="179.50" stroke="#8c8c8c" stroke-width="0.8" />
<text x="459.75" y="187.50" font-size="7.1" text-anchor="middle" font-weight="normal" fill="#1a1a1a" stroke="#1a1a1a" stroke-width="0.26">14</text>
<line x1="473.40" y1="177.50" x2="473.40" y2="179.50" stroke="#8c8c8c" stroke-width="0.8" />
<text x="473.40" y="187.50" font-size="7.1" text-anchor="middle" font-weight="normal" fill="#1a1a1a" stroke="#1a1a1a" stroke-width="0.26">15</text>
<line x1="487.05" y1="177.50" x2="487.05" y2="179.50" stroke="#8c8c8c" stroke-width="0.8" />
<text x="487.05" y="187.50" font-size="7.1" text-anchor="middle" font-weight="normal" fill="#1a1a1a" stroke="#1a1a1a" stroke-width="0.26">16</text>
<line x1="500.70" y1="177.50" x2="500.70" y2="179.50" stroke="#8c8c8c" stroke-width="0.8" />
<text x="500.70" y="187.50" font-size="7.1" text-anchor="middle" font-weight="normal" fill="#1a1a1a" stroke="#1a1a1a" stroke-width="0.26">17</text>
<line x1="514.35" y1="177.50" x2="514.35" y2="179.50" stroke="#8c8c8c" stroke-width="0.8" />
<text x="514.35" y="187.50" font-size="7.1" text-anchor="middle" font-weight="normal" fill="#1a1a1a" stroke="#1a1a1a" stroke-width="0.26">18</text>
<text x="457.30" y="198.10" font-size="7.4" text-anchor="middle" font-weight="bold" fill="#000" textLength="13.2" lengthAdjust="spacingAndGlyphs" stroke="#000" stroke-width="0.14">Day</text>
<text x="0.00" y="0.00" font-size="7.6" text-anchor="middle" font-weight="bold" fill="#000" transform="translate(372.0,120.1) rotate(-90)" textLength="94.1" lengthAdjust="spacingAndGlyphs" stroke="#000" stroke-width="0.14">Cumulative food intake (g)</text>
<polyline points="391.50,160.90 405.15,151.20 418.80,140.40 432.45,130.00 446.10,119.60 459.75,109.20 473.40,97.90 487.05,87.50 500.70,77.10 514.35,67.40" fill="none" stroke="#b0b0b0" stroke-width="1.4" stroke-linejoin="round"/>
<line x1="390.30" y1="158.70" x2="392.70" y2="158.70" stroke="#555" stroke-width="0.8" />
<line x1="391.50" y1="158.70" x2="391.50" y2="160.90" stroke="#555" stroke-width="0.8" />
<rect x="390.30" y="159.70" width="2.40" height="2.40" fill="#b8b8b8"/>
<line x1="403.95" y1="149.00" x2="406.35" y2="149.00" stroke="#555" stroke-width="0.8" />
<line x1="405.15" y1="149.00" x2="405.15" y2="151.20" stroke="#555" stroke-width="0.8" />
<rect x="403.95" y="150.00" width="2.40" height="2.40" fill="#b8b8b8"/>
<line x1="417.60" y1="138.20" x2="420.00" y2="138.20" stroke="#555" stroke-width="0.8" />
<line x1="418.80" y1="138.20" x2="418.80" y2="140.40" stroke="#555" stroke-width="0.8" />
<rect x="417.60" y="139.20" width="2.40" height="2.40" fill="#b8b8b8"/>
<line x1="431.25" y1="127.80" x2="433.65" y2="127.80" stroke="#555" stroke-width="0.8" />
<line x1="432.45" y1="127.80" x2="432.45" y2="130.00" stroke="#555" stroke-width="0.8" />
<rect x="431.25" y="128.80" width="2.40" height="2.40" fill="#b8b8b8"/>
<line x1="444.90" y1="117.40" x2="447.30" y2="117.40" stroke="#555" stroke-width="0.8" />
<line x1="446.10" y1="117.40" x2="446.10" y2="119.60" stroke="#555" stroke-width="0.8" />
<rect x="444.90" y="118.40" width="2.40" height="2.40" fill="#b8b8b8"/>
<line x1="458.55" y1="107.00" x2="460.95" y2="107.00" stroke="#555" stroke-width="0.8" />
<line x1="459.75" y1="107.00" x2="459.75" y2="109.20" stroke="#555" stroke-width="0.8" />
<rect x="458.55" y="108.00" width="2.40" height="2.40" fill="#b8b8b8"/>
<line x1="472.20" y1="95.70" x2="474.60" y2="95.70" stroke="#555" stroke-width="0.8" />
<line x1="473.40" y1="95.70" x2="473.40" y2="97.90" stroke="#555" stroke-width="0.8" />
<rect x="472.20" y="96.70" width="2.40" height="2.40" fill="#b8b8b8"/>
<line x1="485.85" y1="85.30" x2="488.25" y2="85.30" stroke="#555" stroke-width="0.8" />
<line x1="487.05" y1="85.30" x2="487.05" y2="87.50" stroke="#555" stroke-width="0.8" />
<rect x="485.85" y="86.30" width="2.40" height="2.40" fill="#b8b8b8"/>
<line x1="499.50" y1="74.90" x2="501.90" y2="74.90" stroke="#555" stroke-width="0.8" />
<line x1="500.70" y1="74.90" x2="500.70" y2="77.10" stroke="#555" stroke-width="0.8" />
<rect x="499.50" y="75.90" width="2.40" height="2.40" fill="#b8b8b8"/>
<line x1="513.15" y1="65.20" x2="515.55" y2="65.20" stroke="#555" stroke-width="0.8" />
<line x1="514.35" y1="65.20" x2="514.35" y2="67.40" stroke="#555" stroke-width="0.8" />
<rect x="513.15" y="66.20" width="2.40" height="2.40" fill="#b8b8b8"/>
<polyline points="391.50,167.00 405.15,157.80 418.80,149.30 432.45,139.90 446.10,130.30 459.75,120.40 473.40,110.00 487.05,99.60 500.70,90.00 514.35,78.80" fill="none" stroke="#111" stroke-width="1.7" stroke-linejoin="round"/>
<line x1="391.50" y1="167.00" x2="391.50" y2="169.60" stroke="#222" stroke-width="0.8" />
<line x1="390.30" y1="169.60" x2="392.70" y2="169.60" stroke="#222" stroke-width="0.8" />
<polygon points="389.40,168.68 393.60,168.68 391.50,164.90" fill="#111"/>
<line x1="405.15" y1="157.80" x2="405.15" y2="160.40" stroke="#222" stroke-width="0.8" />
<line x1="403.95" y1="160.40" x2="406.35" y2="160.40" stroke="#222" stroke-width="0.8" />
<polygon points="403.05,159.48 407.25,159.48 405.15,155.70" fill="#111"/>
<line x1="418.80" y1="149.30" x2="418.80" y2="151.90" stroke="#222" stroke-width="0.8" />
<line x1="417.60" y1="151.90" x2="420.00" y2="151.90" stroke="#222" stroke-width="0.8" />
<polygon points="416.70,150.98 420.90,150.98 418.80,147.20" fill="#111"/>
<line x1="432.45" y1="139.90" x2="432.45" y2="142.50" stroke="#222" stroke-width="0.8" />
<line x1="431.25" y1="142.50" x2="433.65" y2="142.50" stroke="#222" stroke-width="0.8" />
<polygon points="430.35,141.58 434.55,141.58 432.45,137.80" fill="#111"/>
<line x1="446.10" y1="130.30" x2="446.10" y2="132.90" stroke="#222" stroke-width="0.8" />
<line x1="444.90" y1="132.90" x2="447.30" y2="132.90" stroke="#222" stroke-width="0.8" />
<polygon points="444.00,131.98 448.20,131.98 446.10,128.20" fill="#111"/>
<line x1="459.75" y1="120.40" x2="459.75" y2="123.00" stroke="#222" stroke-width="0.8" />
<line x1="458.55" y1="123.00" x2="460.95" y2="123.00" stroke="#222" stroke-width="0.8" />
<polygon points="457.65,122.08 461.85,122.08 459.75,118.30" fill="#111"/>
<line x1="473.40" y1="110.00" x2="473.40" y2="112.60" stroke="#222" stroke-width="0.8" />
<line x1="472.20" y1="112.60" x2="474.60" y2="112.60" stroke="#222" stroke-width="0.8" />
<polygon points="471.30,111.68 475.50,111.68 473.40,107.90" fill="#111"/>
<line x1="487.05" y1="99.60" x2="487.05" y2="102.20" stroke="#222" stroke-width="0.8" />
<line x1="485.85" y1="102.20" x2="488.25" y2="102.20" stroke="#222" stroke-width="0.8" />
<polygon points="484.95,101.28 489.15,101.28 487.05,97.50" fill="#111"/>
<line x1="500.70" y1="90.00" x2="500.70" y2="92.60" stroke="#222" stroke-width="0.8" />
<line x1="499.50" y1="92.60" x2="501.90" y2="92.60" stroke="#222" stroke-width="0.8" />
<polygon points="498.60,91.68 502.80,91.68 500.70,87.90" fill="#111"/>
<line x1="514.35" y1="78.80" x2="514.35" y2="81.40" stroke="#222" stroke-width="0.8" />
<line x1="513.15" y1="81.40" x2="515.55" y2="81.40" stroke="#222" stroke-width="0.8" />
<polygon points="512.25,80.48 516.45,80.48 514.35,76.70" fill="#111"/>
<circle cx="405.15" cy="148.10" r="1.05" fill="#3a3a3a"/>
<circle cx="418.80" cy="137.20" r="1.05" fill="#3a3a3a"/>
<circle cx="431.00" cy="127.50" r="1.05" fill="#3a3a3a"/>
<circle cx="433.90" cy="127.50" r="1.05" fill="#3a3a3a"/>
<circle cx="444.65" cy="115.90" r="1.05" fill="#3a3a3a"/>
<circle cx="447.55" cy="115.90" r="1.05" fill="#3a3a3a"/>
<circle cx="458.30" cy="106.60" r="1.05" fill="#3a3a3a"/>
<circle cx="461.20" cy="106.60" r="1.05" fill="#3a3a3a"/>
<circle cx="471.95" cy="94.10" r="1.05" fill="#3a3a3a"/>
<circle cx="474.85" cy="94.10" r="1.05" fill="#3a3a3a"/>
<circle cx="484.15" cy="83.00" r="1.05" fill="#3a3a3a"/>
<circle cx="487.05" cy="83.00" r="1.05" fill="#3a3a3a"/>
<circle cx="489.95" cy="83.00" r="1.05" fill="#3a3a3a"/>
<circle cx="497.80" cy="72.80" r="1.05" fill="#3a3a3a"/>
<circle cx="500.70" cy="72.80" r="1.05" fill="#3a3a3a"/>
<circle cx="503.60" cy="72.80" r="1.05" fill="#3a3a3a"/>
<circle cx="511.45" cy="63.20" r="1.05" fill="#3a3a3a"/>
<circle cx="514.35" cy="63.20" r="1.05" fill="#3a3a3a"/>
<circle cx="517.25" cy="63.20" r="1.05" fill="#3a3a3a"/>
<line x1="406.30" y1="67.00" x2="419.60" y2="67.00" stroke="#b0b0b0" stroke-width="1.4" />
<rect x="411.90" y="65.80" width="2.40" height="2.40" fill="#b8b8b8"/>
<line x1="406.30" y1="74.70" x2="419.60" y2="74.70" stroke="#111" stroke-width="1.7" />
<circle cx="413.30" cy="74.70" r="1.60" fill="#111"/>
<text x="422.00" y="69.90" font-size="6.8" text-anchor="start" font-weight="normal" fill="#1a1a1a" textLength="30.0" lengthAdjust="spacingAndGlyphs" stroke="#1a1a1a" stroke-width="0.15">MEK1-DN</text>
<text x="422.40" y="78.90" font-size="6.8" text-anchor="start" font-weight="normal" fill="#1a1a1a" textLength="13.2" lengthAdjust="spacingAndGlyphs" stroke="#1a1a1a" stroke-width="0.15">GFP</text>
<text x="222.40" y="205.50" font-size="14.7" text-anchor="start" font-weight="bold" fill="#000" textLength="8.6" lengthAdjust="spacingAndGlyphs" stroke="#000" stroke-width="0.3">F</text>
<line x1="258.10" y1="200.80" x2="258.10" y2="316.40" stroke="#8c8c8c" stroke-width="1.0" />
<line x1="258.10" y1="316.40" x2="452.80" y2="316.40" stroke="#8c8c8c" stroke-width="1.0" />
<line x1="256.10" y1="316.40" x2="258.10" y2="316.40" stroke="#8c8c8c" stroke-width="0.8" />
<text x="253.80" y="318.90" font-size="7.0" text-anchor="end" font-weight="normal" fill="#1a1a1a" stroke="#1a1a1a" stroke-width="0.26">0</text>
<line x1="256.10" y1="301.95" x2="258.10" y2="301.95" stroke="#8c8c8c" stroke-width="0.8" />
<text x="255.60" y="304.45" font-size="7.0" text-anchor="end" font-weight="normal" fill="#1a1a1a" stroke="#1a1a1a" stroke-width="0.26">20</text>
<line x1="256.10" y1="287.50" x2="258.10" y2="287.50" stroke="#8c8c8c" stroke-width="0.8" />
<text x="255.60" y="290.00" font-size="7.0" text-anchor="end" font-weight="normal" fill="#1a1a1a" stroke="#1a1a1a" stroke-width="0.26">40</text>
<line x1="256.10" y1="273.05" x2="258.10" y2="273.05" stroke="#8c8c8c" stroke-width="0.8" />
<text x="255.60" y="275.55" font-size="7.0" text-anchor="end" font-weight="normal" fill="#1a1a1a" stroke="#1a1a1a" stroke-width="0.26">60</text>
<line x1="256.10" y1="258.60" x2="258.10" y2="258.60" stroke="#8c8c8c" stroke-width="0.8" />
<text x="255.60" y="261.10" font-size="7.0" text-anchor="end" font-weight="normal" fill="#1a1a1a" stroke="#1a1a1a" stroke-width="0.26">80</text>
<line x1="256.10" y1="244.15" x2="258.10" y2="244.15" stroke="#8c8c8c" stroke-width="0.8" />
<text x="255.60" y="246.65" font-size="7.0" text-anchor="end" font-weight="normal" fill="#1a1a1a" stroke="#1a1a1a" stroke-width="0.26">100</text>
<line x1="256.10" y1="229.70" x2="258.10" y2="229.70" stroke="#8c8c8c" stroke-width="0.8" />
<text x="255.60" y="232.20" font-size="7.0" text-anchor="end" font-weight="normal" fill="#1a1a1a" stroke="#1a1a1a" stroke-width="0.26">120</text>
<line x1="256.10" y1="215.25" x2="258.10" y2="215.25" stroke="#8c8c8c" stroke-width="0.8" />
<text x="255.60" y="217.75" font-size="7.0" text-anchor="end" font-weight="normal" fill="#1a1a1a" stroke="#1a1a1a" stroke-width="0.26">140</text>
<line x1="256.10" y1="200.80" x2="258.10" y2="200.80" stroke="#8c8c8c" stroke-width="0.8" />
<text x="255.60" y="203.30" font-size="7.0" text-anchor="end" font-weight="normal" fill="#1a1a1a" stroke="#1a1a1a" stroke-width="0.26">160</text>
<line x1="258.10" y1="316.40" x2="258.10" y2="318.40" stroke="#8c8c8c" stroke-width="0.8" />
<text x="258.10" y="326.00" font-size="7.0" text-anchor="middle" font-weight="normal" fill="#1a1a1a" stroke="#1a1a1a" stroke-width="0.26">0</text>
<line x1="268.89" y1="316.40" x2="268.89" y2="318.40" stroke="#8c8c8c" stroke-width="0.8" />
<text x="268.89" y="326.00" font-size="7.0" text-anchor="middle" font-weight="normal" fill="#1a1a1a" stroke="#1a1a1a" stroke-width="0.26">1</text>
<line x1="279.67" y1="316.40" x2="279.67" y2="318.40" stroke="#8c8c8c" stroke-width="0.8" />
<text x="279.67" y="326.00" font-size="7.0" text-anchor="middle" font-weight="normal" fill="#1a1a1a" stroke="#1a1a1a" stroke-width="0.26">2</text>
<line x1="290.46" y1="316.40" x2="290.46" y2="318.40" stroke="#8c8c8c" stroke-width="0.8" />
<text x="290.46" y="326.00" font-size="7.0" text-anchor="middle" font-weight="normal" fill="#1a1a1a" stroke="#1a1a1a" stroke-width="0.26">3</text>
<line x1="301.24" y1="316.40" x2="301.24" y2="318.40" stroke="#8c8c8c" stroke-width="0.8" />
<text x="301.24" y="326.00" font-size="7.0" text-anchor="middle" font-weight="normal" fill="#1a1a1a" stroke="#1a1a1a" stroke-width="0.26">4</text>
<line x1="312.03" y1="316.40" x2="312.03" y2="318.40" stroke="#8c8c8c" stroke-width="0.8" />
<text x="312.03" y="326.00" font-size="7.0" text-anchor="middle" font-weight="normal" fill="#1a1a1a" stroke="#1a1a1a" stroke-width="0.26">5</text>
<line x1="322.81" y1="316.40" x2="322.81" y2="318.40" stroke="#8c8c8c" stroke-width="0.8" />
<text x="322.81" y="326.00" font-size="7.0" text-anchor="middle" font-weight="normal" fill="#1a1a1a" stroke="#1a1a1a" stroke-width="0.26">6</text>
<line x1="333.60" y1="316.40" x2="333.60" y2="318.40" stroke="#8c8c8c" stroke-width="0.8" />
<text x="333.60" y="326.00" font-size="7.0" text-anchor="middle" font-weight="normal" fill="#1a1a1a" stroke="#1a1a1a" stroke-width="0.26">7</text>
<line x1="344.38" y1="316.40" x2="344.38" y2="318.40" stroke="#8c8c8c" stroke-width="0.8" />
<text x="344.38" y="326.00" font-size="7.0" text-anchor="middle" font-weight="normal" fill="#1a1a1a" stroke="#1a1a1a" stroke-width="0.26">8</text>
<line x1="355.17" y1="316.40" x2="355.17" y2="318.40" stroke="#8c8c8c" stroke-width="0.8" />
<text x="355.17" y="326.00" font-size="7.0" text-anchor="middle" font-weight="normal" fill="#1a1a1a" stroke="#1a1a1a" stroke-width="0.26">9</text>
<line x1="365.95" y1="316.40" x2="365.95" y2="318.40" stroke="#8c8c8c" stroke-width="0.8" />
<text x="365.95" y="326.00" font-size="7.0" text-anchor="middle" font-weight="normal" fill="#1a1a1a" stroke="#1a1a1a" stroke-width="0.26">10</text>
<line x1="376.74" y1="316.40" x2="376.74" y2="318.40" stroke="#8c8c8c" stroke-width="0.8" />
<text x="376.74" y="326.00" font-size="7.0" text-anchor="middle" font-weight="normal" fill="#1a1a1a" stroke="#1a1a1a" stroke-width="0.26">11</text>
<line x1="387.52" y1="316.40" x2="387.52" y2="318.40" stroke="#8c8c8c" stroke-width="0.8" />
<text x="387.52" y="326.00" font-size="7.0" text-anchor="middle" font-weight="normal" fill="#1a1a1a" stroke="#1a1a1a" stroke-width="0.26">12</text>
<line x1="398.31" y1="316.40" x2="398.31" y2="318.40" stroke="#8c8c8c" stroke-width="0.8" />
<text x="398.31" y="326.00" font-size="7.0" text-anchor="middle" font-weight="normal" fill="#1a1a1a" stroke="#1a1a1a" stroke-width="0.26">13</text>
<line x1="409.09" y1="316.40" x2="409.09" y2="318.40" stroke="#8c8c8c" stroke-width="0.8" />
<text x="409.09" y="326.00" font-size="7.0" text-anchor="middle" font-weight="normal" fill="#1a1a1a" stroke="#1a1a1a" stroke-width="0.26">14</text>
<line x1="419.88" y1="316.40" x2="419.88" y2="318.40" stroke="#8c8c8c" stroke-width="0.8" />
<text x="419.88" y="326.00" font-size="7.0" text-anchor="middle" font-weight="normal" fill="#1a1a1a" stroke="#1a1a1a" stroke-width="0.26">15</text>
<line x1="430.66" y1="316.40" x2="430.66" y2="318.40" stroke="#8c8c8c" stroke-width="0.8" />
<text x="430.66" y="326.00" font-size="7.0" text-anchor="middle" font-weight="normal" fill="#1a1a1a" stroke="#1a1a1a" stroke-width="0.26">16</text>
<line x1="441.45" y1="316.40" x2="441.45" y2="318.40" stroke="#8c8c8c" stroke-width="0.8" />
<text x="441.45" y="326.00" font-size="7.0" text-anchor="middle" font-weight="normal" fill="#1a1a1a" stroke="#1a1a1a" stroke-width="0.26">17</text>
<line x1="452.23" y1="316.40" x2="452.23" y2="318.40" stroke="#8c8c8c" stroke-width="0.8" />
<text x="452.23" y="326.00" font-size="7.0" text-anchor="middle" font-weight="normal" fill="#1a1a1a" stroke="#1a1a1a" stroke-width="0.26">18</text>
<text x="355.50" y="334.80" font-size="7.4" text-anchor="middle" font-weight="bold" fill="#000" textLength="12.9" lengthAdjust="spacingAndGlyphs" stroke="#000" stroke-width="0.14">Day</text>
<text x="0.00" y="0.00" font-size="7.7" text-anchor="middle" font-weight="bold" fill="#000" transform="translate(241.4,257.9) rotate(-90)" textLength="121.6" lengthAdjust="spacingAndGlyphs" stroke="#000" stroke-width="0.14">Average body weight increase (g)</text>
<line x1="268.89" y1="309.20" x2="268.89" y2="315.20" stroke="#444" stroke-width="0.8" />
<line x1="267.29" y1="309.00" x2="270.49" y2="309.00" stroke="#333" stroke-width="1.1" />
<line x1="279.67" y1="302.90" x2="279.67" y2="308.90" stroke="#444" stroke-width="0.8" />
<line x1="278.07" y1="302.70" x2="281.27" y2="302.70" stroke="#333" stroke-width="1.1" />
<line x1="290.46" y1="296.60" x2="290.46" y2="302.60" stroke="#444" stroke-width="0.8" />
<line x1="288.86" y1="296.40" x2="292.06" y2="296.40" stroke="#333" stroke-width="1.1" />
<line x1="301.24" y1="290.60" x2="301.24" y2="296.60" stroke="#444" stroke-width="0.8" />
<line x1="299.64" y1="290.40" x2="302.84" y2="290.40" stroke="#333" stroke-width="1.1" />
<line x1="312.03" y1="283.60" x2="312.03" y2="289.60" stroke="#444" stroke-width="0.8" />
<line x1="310.43" y1="283.40" x2="313.63" y2="283.40" stroke="#333" stroke-width="1.1" />
<line x1="322.81" y1="275.00" x2="322.81" y2="281.00" stroke="#444" stroke-width="0.8" />
<line x1="321.21" y1="274.80" x2="324.41" y2="274.80" stroke="#333" stroke-width="1.1" />
<line x1="333.60" y1="268.30" x2="333.60" y2="274.30" stroke="#444" stroke-width="0.8" />
<line x1="332.00" y1="268.10" x2="335.20" y2="268.10" stroke="#333" stroke-width="1.1" />
<line x1="344.38" y1="262.30" x2="344.38" y2="268.30" stroke="#444" stroke-width="0.8" />
<line x1="342.78" y1="262.10" x2="345.98" y2="262.10" stroke="#333" stroke-width="1.1" />
<line x1="355.17" y1="257.00" x2="355.17" y2="263.00" stroke="#444" stroke-width="0.8" />
<line x1="353.56" y1="256.80" x2="356.77" y2="256.80" stroke="#333" stroke-width="1.1" />
<line x1="365.95" y1="249.80" x2="365.95" y2="255.80" stroke="#444" stroke-width="0.8" />
<line x1="364.35" y1="249.60" x2="367.55" y2="249.60" stroke="#333" stroke-width="1.1" />
<line x1="376.74" y1="243.60" x2="376.74" y2="249.60" stroke="#444" stroke-width="0.8" />
<line x1="375.13" y1="243.40" x2="378.34" y2="243.40" stroke="#333" stroke-width="1.1" />
<line x1="387.52" y1="237.40" x2="387.52" y2="243.40" stroke="#444" stroke-width="0.8" />
<line x1="385.92" y1="237.20" x2="389.12" y2="237.20" stroke="#333" stroke-width="1.1" />
<line x1="398.31" y1="238.00" x2="398.31" y2="244.00" stroke="#444" stroke-width="0.8" />
<line x1="396.71" y1="237.80" x2="399.91" y2="237.80" stroke="#333" stroke-width="1.1" />
<line x1="409.09" y1="229.70" x2="409.09" y2="235.70" stroke="#444" stroke-width="0.8" />
<line x1="407.49" y1="229.50" x2="410.69" y2="229.50" stroke="#333" stroke-width="1.1" />
<line x1="419.88" y1="227.00" x2="419.88" y2="233.00" stroke="#444" stroke-width="0.8" />
<line x1="418.27" y1="226.80" x2="421.48" y2="226.80" stroke="#333" stroke-width="1.1" />
<line x1="430.66" y1="220.80" x2="430.66" y2="226.80" stroke="#444" stroke-width="0.8" />
<line x1="429.06" y1="220.60" x2="432.26" y2="220.60" stroke="#333" stroke-width="1.1" />
<line x1="441.45" y1="214.60" x2="441.45" y2="220.60" stroke="#444" stroke-width="0.8" />
<line x1="439.85" y1="214.40" x2="443.05" y2="214.40" stroke="#333" stroke-width="1.1" />
<line x1="452.23" y1="207.80" x2="452.23" y2="213.80" stroke="#444" stroke-width="0.8" />
<line x1="450.63" y1="207.60" x2="453.83" y2="207.60" stroke="#333" stroke-width="1.1" />
<polyline points="258.10,316.40 268.89,312.20 279.67,305.90 290.46,299.60 301.24,293.60 312.03,286.60 322.81,278.00 333.60,271.30 344.38,265.30 355.17,260.00 365.95,252.80 376.74,246.60 387.52,240.40 398.31,241.00 409.09,232.70 419.88,230.00 430.66,223.80 441.45,217.60 452.23,210.80" fill="none" stroke="#b8b8b8" stroke-width="1.7" stroke-linejoin="round"/>
<rect x="256.30" y="314.60" width="3.60" height="3.60" fill="#b8b8b8"/>
<rect x="267.09" y="310.40" width="3.60" height="3.60" fill="#b8b8b8"/>
<rect x="277.87" y="304.10" width="3.60" height="3.60" fill="#b8b8b8"/>
<rect x="288.66" y="297.80" width="3.60" height="3.60" fill="#b8b8b8"/>
<rect x="299.44" y="291.80" width="3.60" height="3.60" fill="#b8b8b8"/>
<rect x="310.23" y="284.80" width="3.60" height="3.60" fill="#b8b8b8"/>
<rect x="321.01" y="276.20" width="3.60" height="3.60" fill="#b8b8b8"/>
<rect x="331.80" y="269.50" width="3.60" height="3.60" fill="#b8b8b8"/>
<rect x="342.58" y="263.50" width="3.60" height="3.60" fill="#b8b8b8"/>
<rect x="353.37" y="258.20" width="3.60" height="3.60" fill="#b8b8b8"/>
<rect x="364.15" y="251.00" width="3.60" height="3.60" fill="#b8b8b8"/>
<rect x="374.94" y="244.80" width="3.60" height="3.60" fill="#b8b8b8"/>
<rect x="385.72" y="238.60" width="3.60" height="3.60" fill="#b8b8b8"/>
<rect x="396.51" y="239.20" width="3.60" height="3.60" fill="#b8b8b8"/>
<rect x="407.29" y="230.90" width="3.60" height="3.60" fill="#b8b8b8"/>
<rect x="418.07" y="228.20" width="3.60" height="3.60" fill="#b8b8b8"/>
<rect x="428.86" y="222.00" width="3.60" height="3.60" fill="#b8b8b8"/>
<rect x="439.65" y="215.80" width="3.60" height="3.60" fill="#b8b8b8"/>
<rect x="450.43" y="209.00" width="3.60" height="3.60" fill="#b8b8b8"/>
<line x1="268.89" y1="310.30" x2="268.89" y2="316.30" stroke="#222" stroke-width="0.8" />
<line x1="267.49" y1="316.30" x2="270.29" y2="316.30" stroke="#222" stroke-width="0.8" />
<line x1="279.67" y1="304.60" x2="279.67" y2="310.60" stroke="#222" stroke-width="0.8" />
<line x1="278.27" y1="310.60" x2="281.07" y2="310.60" stroke="#222" stroke-width="0.8" />
<line x1="290.46" y1="298.20" x2="290.46" y2="304.20" stroke="#222" stroke-width="0.8" />
<line x1="289.06" y1="304.20" x2="291.86" y2="304.20" stroke="#222" stroke-width="0.8" />
<line x1="301.24" y1="292.70" x2="301.24" y2="298.70" stroke="#222" stroke-width="0.8" />
<line x1="299.84" y1="298.70" x2="302.64" y2="298.70" stroke="#222" stroke-width="0.8" />
<line x1="312.03" y1="287.60" x2="312.03" y2="293.60" stroke="#222" stroke-width="0.8" />
<line x1="310.63" y1="293.60" x2="313.43" y2="293.60" stroke="#222" stroke-width="0.8" />
<line x1="322.81" y1="282.20" x2="322.81" y2="288.20" stroke="#222" stroke-width="0.8" />
<line x1="321.41" y1="288.20" x2="324.21" y2="288.20" stroke="#222" stroke-width="0.8" />
<line x1="333.60" y1="278.90" x2="333.60" y2="284.90" stroke="#222" stroke-width="0.8" />
<line x1="332.20" y1="284.90" x2="335.00" y2="284.90" stroke="#222" stroke-width="0.8" />
<line x1="344.38" y1="272.30" x2="344.38" y2="278.30" stroke="#222" stroke-width="0.8" />
<line x1="342.98" y1="278.30" x2="345.78" y2="278.30" stroke="#222" stroke-width="0.8" />
<line x1="355.17" y1="269.00" x2="355.17" y2="275.00" stroke="#222" stroke-width="0.8" />
<line x1="353.77" y1="275.00" x2="356.56" y2="275.00" stroke="#222" stroke-width="0.8" />
<line x1="365.95" y1="262.60" x2="365.95" y2="268.60" stroke="#222" stroke-width="0.8" />
<line x1="364.55" y1="268.60" x2="367.35" y2="268.60" stroke="#222" stroke-width="0.8" />
<line x1="376.74" y1="260.50" x2="376.74" y2="266.50" stroke="#222" stroke-width="0.8" />
<line x1="375.34" y1="266.50" x2="378.13" y2="266.50" stroke="#222" stroke-width="0.8" />
<line x1="387.52" y1="255.00" x2="387.52" y2="261.00" stroke="#222" stroke-width="0.8" />
<line x1="386.12" y1="261.00" x2="388.92" y2="261.00" stroke="#222" stroke-width="0.8" />
<line x1="398.31" y1="250.40" x2="398.31" y2="256.40" stroke="#222" stroke-width="0.8" />
<line x1="396.91" y1="256.40" x2="399.71" y2="256.40" stroke="#222" stroke-width="0.8" />
<line x1="409.09" y1="244.20" x2="409.09" y2="250.20" stroke="#222" stroke-width="0.8" />
<line x1="407.69" y1="250.20" x2="410.49" y2="250.20" stroke="#222" stroke-width="0.8" />
<line x1="419.88" y1="240.90" x2="419.88" y2="246.90" stroke="#222" stroke-width="0.8" />
<line x1="418.48" y1="246.90" x2="421.27" y2="246.90" stroke="#222" stroke-width="0.8" />
<line x1="430.66" y1="237.40" x2="430.66" y2="243.40" stroke="#222" stroke-width="0.8" />
<line x1="429.26" y1="243.40" x2="432.06" y2="243.40" stroke="#222" stroke-width="0.8" />
<line x1="441.45" y1="232.60" x2="441.45" y2="238.60" stroke="#222" stroke-width="0.8" />
<line x1="440.05" y1="238.60" x2="442.85" y2="238.60" stroke="#222" stroke-width="0.8" />
<line x1="452.23" y1="223.90" x2="452.23" y2="229.90" stroke="#222" stroke-width="0.8" />
<line x1="450.83" y1="229.90" x2="453.63" y2="229.90" stroke="#222" stroke-width="0.8" />
<polyline points="258.10,316.40 268.89,313.30 279.67,307.60 290.46,301.20 301.24,295.70 312.03,290.60 322.81,285.20 333.60,281.90 344.38,275.30 355.17,272.00 365.95,265.60 376.74,263.50 387.52,258.00 398.31,253.40 409.09,247.20 419.88,243.90 430.66,240.40 441.45,235.60 452.23,226.90" fill="none" stroke="#111" stroke-width="1.8" stroke-linejoin="round"/>
<rect x="256.30" y="314.60" width="3.60" height="3.60" fill="#111"/>
<rect x="267.09" y="311.50" width="3.60" height="3.60" fill="#111"/>
<rect x="277.87" y="305.80" width="3.60" height="3.60" fill="#111"/>
<rect x="288.66" y="299.40" width="3.60" height="3.60" fill="#111"/>
<rect x="299.44" y="293.90" width="3.60" height="3.60" fill="#111"/>
<rect x="310.23" y="288.80" width="3.60" height="3.60" fill="#111"/>
<rect x="321.01" y="283.40" width="3.60" height="3.60" fill="#111"/>
<rect x="331.80" y="280.10" width="3.60" height="3.60" fill="#111"/>
<rect x="342.58" y="273.50" width="3.60" height="3.60" fill="#111"/>
<rect x="353.37" y="270.20" width="3.60" height="3.60" fill="#111"/>
<rect x="364.15" y="263.80" width="3.60" height="3.60" fill="#111"/>
<rect x="374.94" y="261.70" width="3.60" height="3.60" fill="#111"/>
<rect x="385.72" y="256.20" width="3.60" height="3.60" fill="#111"/>
<rect x="396.51" y="251.60" width="3.60" height="3.60" fill="#111"/>
<rect x="407.29" y="245.40" width="3.60" height="3.60" fill="#111"/>
<rect x="418.07" y="242.10" width="3.60" height="3.60" fill="#111"/>
<rect x="428.86" y="238.60" width="3.60" height="3.60" fill="#111"/>
<rect x="439.65" y="233.80" width="3.60" height="3.60" fill="#111"/>
<rect x="450.43" y="225.10" width="3.60" height="3.60" fill="#111"/>
<circle cx="355.17" cy="251.10" r="1.05" fill="#3a3a3a"/>
<circle cx="364.50" cy="244.50" r="1.05" fill="#3a3a3a"/>
<circle cx="367.40" cy="244.50" r="1.05" fill="#3a3a3a"/>
<circle cx="373.84" cy="238.30" r="1.05" fill="#3a3a3a"/>
<circle cx="376.74" cy="238.30" r="1.05" fill="#3a3a3a"/>
<circle cx="379.63" cy="238.30" r="1.05" fill="#3a3a3a"/>
<circle cx="384.62" cy="232.70" r="1.05" fill="#3a3a3a"/>
<circle cx="387.52" cy="232.70" r="1.05" fill="#3a3a3a"/>
<circle cx="390.42" cy="232.70" r="1.05" fill="#3a3a3a"/>
<circle cx="398.31" cy="232.10" r="1.05" fill="#3a3a3a"/>
<circle cx="407.64" cy="224.40" r="1.05" fill="#3a3a3a"/>
<circle cx="410.54" cy="224.40" r="1.05" fill="#3a3a3a"/>
<circle cx="418.43" cy="222.40" r="1.05" fill="#3a3a3a"/>
<circle cx="421.32" cy="222.40" r="1.05" fill="#3a3a3a"/>
<circle cx="427.76" cy="217.00" r="1.05" fill="#3a3a3a"/>
<circle cx="430.66" cy="217.00" r="1.05" fill="#3a3a3a"/>
<circle cx="433.56" cy="217.00" r="1.05" fill="#3a3a3a"/>
<circle cx="438.55" cy="209.30" r="1.05" fill="#3a3a3a"/>
<circle cx="441.45" cy="209.30" r="1.05" fill="#3a3a3a"/>
<circle cx="444.35" cy="209.30" r="1.05" fill="#3a3a3a"/>
<circle cx="449.33" cy="203.50" r="1.05" fill="#3a3a3a"/>
<circle cx="452.23" cy="203.50" r="1.05" fill="#3a3a3a"/>
<circle cx="455.13" cy="203.50" r="1.05" fill="#3a3a3a"/>
<line x1="273.30" y1="221.30" x2="286.80" y2="221.30" stroke="#b8b8b8" stroke-width="1.6" />
<rect x="278.90" y="219.80" width="3.00" height="3.00" fill="#b8b8b8"/>
<line x1="273.30" y1="228.30" x2="286.80" y2="228.30" stroke="#111" stroke-width="1.8" />
<circle cx="280.30" cy="228.30" r="1.80" fill="#111"/>
<text x="290.00" y="223.90" font-size="6.7" text-anchor="start" font-weight="normal" fill="#1a1a1a" textLength="29.2" lengthAdjust="spacingAndGlyphs" stroke="#1a1a1a" stroke-width="0.15">MEK1-DN</text>
<text x="290.00" y="232.60" font-size="6.7" text-anchor="start" font-weight="normal" fill="#1a1a1a" textLength="13.1" lengthAdjust="spacingAndGlyphs" stroke="#1a1a1a" stroke-width="0.15">GFP</text>
</svg>
</body></html>
